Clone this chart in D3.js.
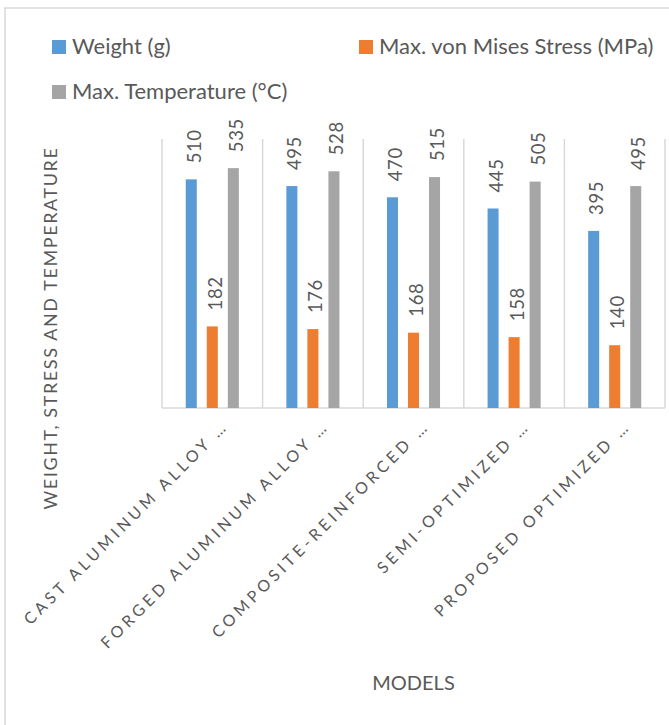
<!DOCTYPE html>
<html>
<head>
<meta charset="utf-8">
<script src="https://cdn.jsdelivr.net/npm/d3@7"></script>
<style>
  html, body { margin: 0; padding: 0; background: #ffffff; }
  svg { display: block; }
  text { font-family: Lato, "Open Sans", sans-serif; fill: #595959; }
</style>
</head>
<body>
<svg id="chart" width="669" height="725"></svg>
<script>
// Model categories (x axis)
const models = [
  "CAST ALUMINUM ALLOY …",
  "FORGED ALUMINUM ALLOY …",
  "COMPOSITE-REINFORCED …",
  "SEMI-OPTIMIZED …",
  "PROPOSED OPTIMIZED …"
];

// Series names and colours
const seriesNames = ["Weight (g)", "Max. von Mises Stress (MPa)", "Max. Temperature (°C)"];
const seriesColors = ["#5b9bd5", "#ed7d31", "#a5a5a5"];

// Series values, one entry per model
const weight = [510, 495, 470, 445, 395];
const stress = [182, 176, 168, 158, 140];
const temperature = [535, 528, 515, 505, 495];

const yMax = 600;

const seriesValues = [weight, stress, temperature];

const svg = d3.select("#chart");

// Chart frame
svg.append("rect")
  .attr("x", 5).attr("y", 8)
  .attr("width", 720).attr("height", 760)
  .attr("fill", "#ffffff")
  .attr("stroke", "#d9d9d9").attr("stroke-width", 1.5);

const plot = { left: 162, right: 665, top: 139, bottom: 408 };

const x = d3.scaleBand()
  .domain(models)
  .range([plot.left, plot.right])
  .paddingInner(0).paddingOuter(0);

const xInner = d3.scaleBand()
  .domain(d3.range(seriesNames.length))
  .range([0, x.bandwidth()])
  .paddingInner(0.476).paddingOuter(1.13);

const y = d3.scaleLinear().domain([0, yMax]).range([plot.bottom, plot.top]);

// Vertical category separators
const sepX = models.map(m => x(m)).concat([x(models[models.length - 1]) + x.bandwidth()]);
svg.append("g").selectAll("line")
  .data(sepX)
  .join("line")
  .attr("x1", d => d).attr("x2", d => d)
  .attr("y1", plot.top).attr("y2", plot.bottom)
  .attr("stroke", "#d9d9d9").attr("stroke-width", 1.5);

// Category axis line
svg.append("line")
  .attr("x1", plot.left).attr("x2", plot.right)
  .attr("y1", plot.bottom).attr("y2", plot.bottom)
  .attr("stroke", "#d9d9d9").attr("stroke-width", 1.5);

// Bars and value labels
const cells = [];
models.forEach((m, i) => {
  seriesValues.forEach((vals, s) => {
    cells.push({ model: m, s: s, value: vals[i] });
  });
});

const bars = svg.append("g");
bars.selectAll("rect")
  .data(cells)
  .join("rect")
  .attr("x", d => x(d.model) + xInner(d.s))
  .attr("y", d => y(d.value))
  .attr("width", xInner.bandwidth())
  .attr("height", d => y(0) - y(d.value))
  .attr("fill", d => seriesColors[d.s]);

bars.selectAll("text")
  .data(cells)
  .join("text")
  .attr("transform", d => {
    const cx = x(d.model) + xInner(d.s) + xInner.bandwidth() / 2 + 9.5;
    const cy = y(d.value) - 16;
    return `translate(${cx},${cy}) rotate(-90)`;
  })
  .attr("text-anchor", "start")
  .style("font-size", "18.5px")
  .style("letter-spacing", "0.6px")
  .text(d => d.value);

// Category labels, rotated
svg.append("g").selectAll("text")
  .data(models)
  .join("text")
  .attr("transform", d => {
    const cx = x(d) + x.bandwidth() / 2 + 17;
    const cy = plot.bottom + 19;
    return `translate(${cx},${cy}) rotate(-45)`;
  })
  .attr("text-anchor", "end")
  .style("font-size", "16px")
  .style("letter-spacing", "3.9px")
  .text(d => d);

// Axis titles
svg.append("text")
  .attr("transform", "translate(57,328) rotate(-90)")
  .attr("text-anchor", "middle")
  .style("font-size", "18px")
  .style("letter-spacing", "1.6px")
  .text("WEIGHT, STRESS AND TEMPERATURE");

svg.append("text")
  .attr("x", (plot.left + plot.right) / 2)
  .attr("y", 690)
  .attr("text-anchor", "middle")
  .style("font-size", "20px")
  .text("MODELS");

// Legend
const legendPos = [
  { x: 52, y: 40 },
  { x: 359, y: 40 },
  { x: 52, y: 85 }
];
const legend = svg.append("g").selectAll("g")
  .data(seriesNames)
  .join("g")
  .attr("transform", (d, i) => `translate(${legendPos[i].x},${legendPos[i].y})`);
legend.append("rect")
  .attr("width", 14).attr("height", 14)
  .attr("fill", (d, i) => seriesColors[i]);
legend.append("text")
  .attr("x", 20).attr("y", 14)
  .style("font-size", "22px")
  .text(d => d);
</script>
</body>
</html>
